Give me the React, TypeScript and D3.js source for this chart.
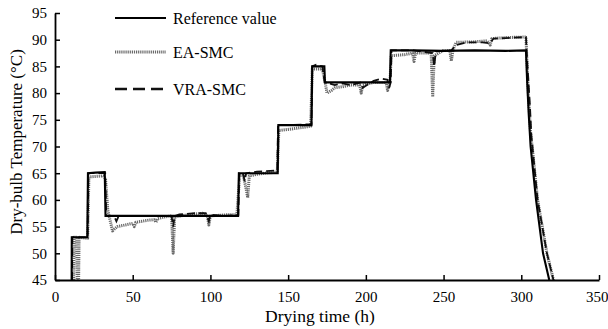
import { useRef, useEffect } from 'react';
import * as d3 from 'd3';

// [time (h), temperature (°C)]
const referenceValue: [number, number][] = [
  [10.7, 45], [10.8, 53], [20.8, 53], [21.2, 65], [26, 65.1], [32, 65.2], [32.5, 57],
  [45, 57], [60, 57], [80, 57], [100, 57], [117.8, 57], [118.3, 65], [130, 65],
  [143.3, 65], [143.7, 74], [165, 74], [165.5, 85], [173.3, 85], [173.7, 82],
  [195, 82], [215.5, 82], [216, 88], [230, 88], [250, 87.9], [270, 88], [290, 87.9],
  [303, 88], [303.8, 82], [304.8, 76], [306, 70], [309.5, 60], [314, 50], [318, 45],
];

const eaSmc: [number, number][] = [
  [12, 45], [12.3, 53], [14, 53], [14.3, 45], [15.2, 45], [15.5, 53], [21, 52.8],
  [21.8, 64.3], [31, 64.5], [32.5, 64], [34, 58], [37, 54.2], [40, 55], [45, 55.3],
  [50, 55.6], [51, 55], [52, 55.8], [60, 56.2], [64, 56.3], [65, 55.8], [66, 56.5],
  [70, 56.8], [75, 57], [76, 50], [77, 56.8], [85, 57.2], [95, 57.5], [98, 57],
  [99, 55.3], [100, 57], [110, 57.2], [117, 57.2], [118.8, 64.5], [121, 64.8],
  [123, 62], [124, 60.4], [125, 64.5], [130, 64.8], [135, 65], [143, 65.2],
  [144, 73], [150, 73.2], [160, 73.6], [164.5, 73.8], [165.5, 84.5], [172, 84.5],
  [173.8, 82], [175, 80], [178, 80.5], [180, 81], [185, 81.2], [190, 81.5],
  [196, 81.5], [197, 80], [198, 81.5], [205, 82], [213, 82], [214, 80.5],
  [215.5, 82], [216.3, 87], [225, 87.2], [230, 87.5], [231, 85.9], [232, 87.5],
  [240, 87.5], [242, 87.6], [243, 79.3], [244, 87], [250, 88], [254, 88], [255, 86],
  [256, 88], [258, 89.5], [270, 89.6], [278, 89.8], [280, 89], [281, 90.2],
  [290, 90.4], [303, 90.5], [304.5, 80], [306, 72.5], [307, 70], [310.5, 60],
  [316.5, 50], [320.7, 45],
];

const vraSmc: [number, number][] = [
  [11, 45], [11.2, 53], [21, 53], [21.5, 65], [32.3, 65], [33, 57], [38, 57],
  [39.5, 56], [41, 57], [50, 57], [60, 57], [75, 57], [76, 55], [77, 57],
  [80, 57.3], [90, 57.5], [97, 57.5], [99, 56], [100, 57.2], [110, 57], [118, 57.2],
  [118.5, 65], [121, 65], [122, 63.5], [123, 65], [130, 65.3], [143, 65.5],
  [143.5, 74], [150, 74], [165, 74.2], [165.5, 85], [168, 85.3], [172, 85],
  [173.5, 82], [174, 82], [180, 81.5], [185, 81.8], [190, 81.5], [197, 82],
  [198, 81], [205, 82.3], [210, 82.7], [214, 82.5], [215, 81], [216, 82],
  [216.5, 88], [230, 88], [243, 87.5], [244, 85], [245, 87.8], [255, 88],
  [258, 89], [265, 89.5], [275, 89.5], [280, 89.3], [282, 90.2], [290, 90.3],
  [303, 90.5], [304, 85], [305.5, 78], [306.5, 72], [307, 70.5], [310.5, 60],
  [316.5, 50], [320.7, 45],
];

const xTicks = [0, 50, 100, 150, 200, 250, 300, 350];
const yTicks = [45, 50, 55, 60, 65, 70, 75, 80, 85, 90, 95];

const W = 608;
const H = 329;
const FONT = '"Liberation Serif", "Times New Roman", serif';

export default function App() {
  const svgRef = useRef<SVGSVGElement>(null);

  useEffect(() => {
    const svg = d3.select(svgRef.current);
    svg.selectAll('*').remove();

    const x = d3.scaleLinear().domain([0, 350]).range([55, 599]);
    const y = d3.scaleLinear().domain([45, 95]).range([280, 13]);

    svg.append('clipPath').attr('id', 'plot-clip')
      .append('rect').attr('x', 55).attr('y', 0).attr('width', 550).attr('height', 280);

    const line = d3.line<[number, number]>()
      .x(d => x(d[0]))
      .y(d => y(d[1]));

    const g = svg.append('g').attr('clip-path', 'url(#plot-clip)');

    g.append('path').datum(eaSmc)
      .attr('d', line).attr('fill', 'none').attr('stroke-linejoin', 'round')
      .attr('stroke', '#6a6a6a').attr('stroke-width', 3).attr('stroke-dasharray', '1.2,0.9');

    g.append('path').datum(vraSmc)
      .attr('d', line).attr('fill', 'none')
      .attr('stroke', '#111').attr('stroke-width', 1.8).attr('stroke-dasharray', '8,4');

    g.append('path').datum(referenceValue)
      .attr('d', line).attr('fill', 'none')
      .attr('stroke', '#000').attr('stroke-width', 2.1);

    // axes: ticks point inward
    const xAxis = svg.append('g').attr('transform', 'translate(0,280)')
      .call(d3.axisBottom(x).tickValues(xTicks).tickSizeInner(-5).tickSizeOuter(0).tickPadding(11));
    const yAxis = svg.append('g').attr('transform', 'translate(55,0)')
      .call(d3.axisLeft(y).tickValues(yTicks).tickSizeInner(-5).tickSizeOuter(0).tickPadding(8));

    [xAxis, yAxis].forEach(a => {
      a.select('.domain').attr('stroke', '#000').attr('stroke-width', 1.8);
      a.selectAll('.tick line').attr('stroke', '#000').attr('stroke-width', 1.5);
      a.selectAll('.tick text').attr('font-family', FONT).attr('font-size', 15).attr('fill', '#000');
    });
    // keep the last x label inside the picture
    xAxis.selectAll<SVGTextElement, number>('.tick text')
      .filter(d => d === 350)
      .attr('text-anchor', 'end').attr('dx', 9);

    // axis titles
    svg.append('text')
      .attr('x', 320).attr('y', 322)
      .attr('text-anchor', 'middle')
      .attr('font-family', FONT).attr('font-size', 17.5)
      .text('Drying time (h)');

    svg.append('text')
      .attr('transform', 'translate(22,142) rotate(-90)')
      .attr('text-anchor', 'middle')
      .attr('font-family', FONT).attr('font-size', 17)
      .text('Dry-bulb Temperature (°C)');

    // legend
    const legend = [
      { label: 'Reference value', stroke: '#000', width: 2.1, dash: null, y: 18 },
      { label: 'EA-SMC', stroke: '#6a6a6a', width: 3, dash: '1.2,0.9', y: 52 },
      { label: 'VRA-SMC', stroke: '#111', width: 2.4, dash: '12,6', y: 89 },
    ];
    legend.forEach(item => {
      svg.append('line')
        .attr('x1', 115).attr('x2', 166).attr('y1', item.y).attr('y2', item.y)
        .attr('stroke', item.stroke).attr('stroke-width', item.width)
        .attr('stroke-dasharray', item.dash);
      svg.append('text')
        .attr('x', 173).attr('y', item.y).attr('dy', '0.35em')
        .attr('font-family', FONT).attr('font-size', 16)
        .text(item.label);
    });
  }, []);

  return (
    <svg
      ref={svgRef}
      width={W}
      height={H}
      style={{ position: 'absolute', left: 0, top: 0, background: '#fff' }}
    />
  );
}
